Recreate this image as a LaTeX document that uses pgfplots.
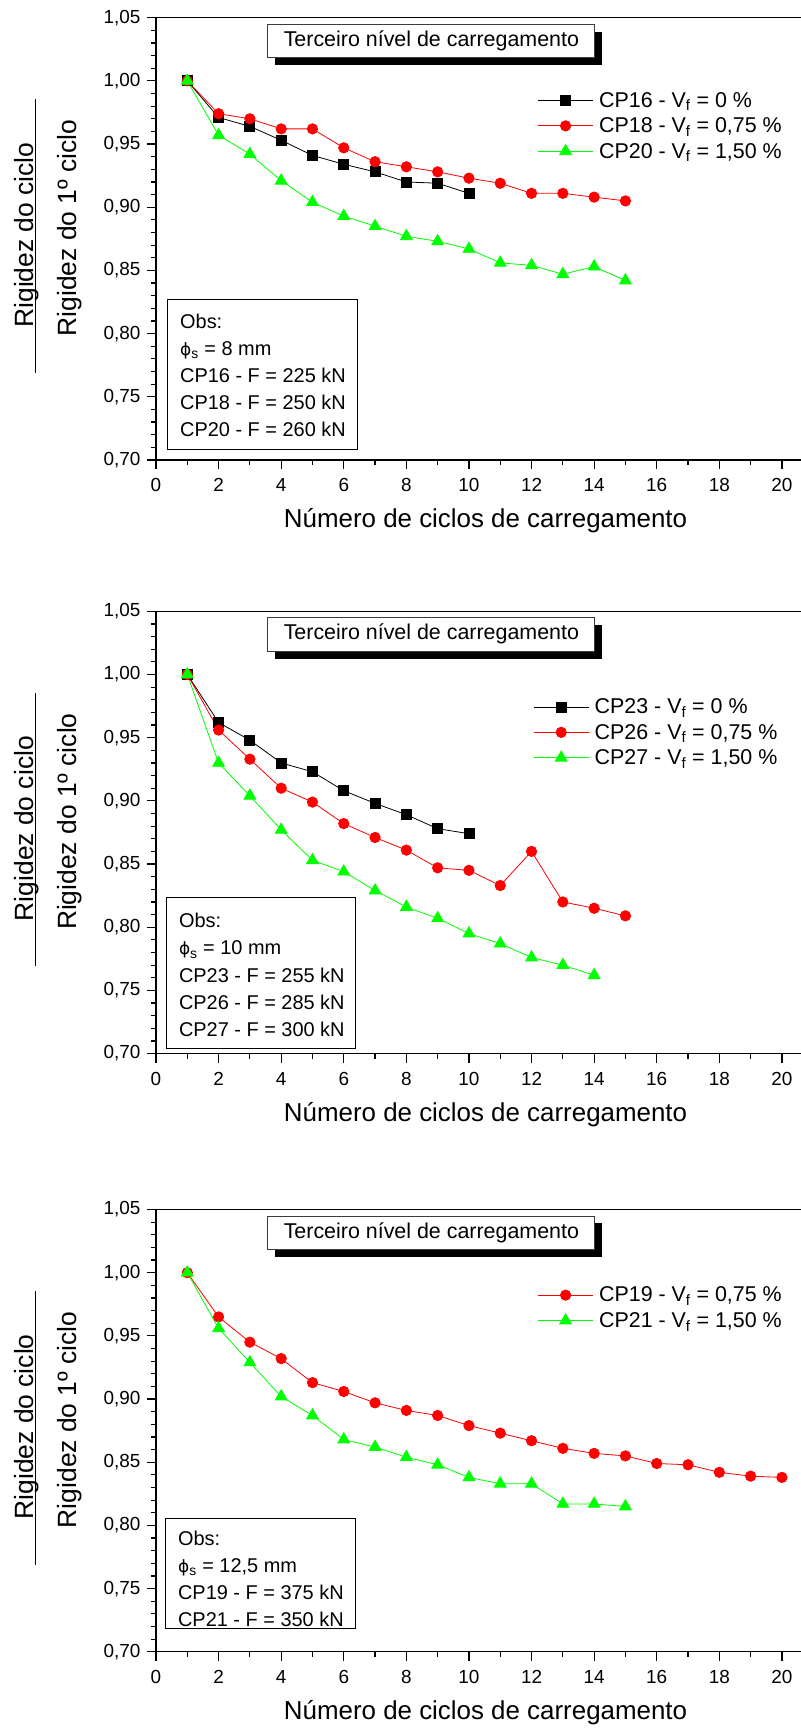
\documentclass[border=0pt]{standalone}
\usepackage{fontspec}
\setmainfont{Liberation Sans}
\newfontfamily\phifont{DejaVu Sans}
\usepackage{pgfplots}
\pgfplotsset{compat=1.18}

\definecolor{cpred}{RGB}{255,0,0}
\definecolor{cpgreen}{RGB}{0,255,0}
\definecolor{boxgray}{RGB}{60,60,60}

\newcommand{\obsfont}{\fontsize{20}{27.2}\selectfont}
\newcommand{\phis}{{\phifont\fontsize{17}{20}\selectfont ϕ}\textsubscript{s}}

\pgfplotsset{
  rig/.style={
    scale only axis, width=650bp, height=442.3bp,
    xmin=0, xmax=20.77, ymin=0.70, ymax=1.05,
    xtick={0,2,4,6,8,10,12,14,16,18,20},
    ytick={0.70,0.75,0.80,0.85,0.90,0.95,1.00,1.05},
    minor x tick num=1, minor y tick num=4,
    tick pos=left, tick align=outside,
    major tick length=9bp, minor tick length=5bp,
    axis line style={line width=1.2bp},
    every tick/.append style={line width=1.2bp, black},
    /pgf/number format/assume math mode=true,
    yticklabel style={/pgf/number format/.cd, fixed, fixed zerofill, precision=2, use comma, /tikz/.cd, xshift=-3bp},
    xticklabel style={yshift=-6bp},
    tick label style={font=\fontsize{19}{22}\selectfont},
    xlabel={Número de ciclos de carregamento},
    xlabel style={font=\fontsize{26}{30}\selectfont, at={(axis description cs:0.507,0)}, anchor=center, yshift=-61bp},
    clip=false,
    legend cell align=left,
    legend style={draw=none, fill=none, inner sep=0pt, row sep=9bp, font=\fontsize{21.5}{25}\selectfont,
      nodes={fill=none, inner xsep=3bp, inner ysep=0bp}},
    legend image code/.code={%
      \draw[#1] (0bp,0bp) -- (55bp,0bp);
      \draw[#1] plot coordinates {(27.5bp,0bp)};
      \path[draw=none, fill=none] (0bp,-5bp) rectangle (58bp,5bp);},
  },
  blk/.style={black, line width=0.8bp, mark=square*, mark size=5bp, mark options={solid}},
  rd/.style={cpred, line width=0.8bp, mark=*, mark size=5.2bp, mark options={solid}},
  gr/.style={cpgreen, line width=0.8bp, mark=triangle*, mark size=6.8bp, mark options={solid}},
}

% y label (fraction) and title box, same on every panel
\newcommand{\decor}{%
  \draw[line width=1.2bp] (rel axis cs:-0.185,0.197) -- (rel axis cs:-0.185,0.816);
  \node[rotate=90, anchor=base, font=\fontsize{26.5}{30}\selectfont] at (rel axis cs:-0.1888,0.5086) {Rigidez do ciclo};
  \node[rotate=90, anchor=base, font=\fontsize{26.5}{30}\selectfont] at (rel axis cs:-0.122,0.5244) {Rigidez do 1º ciclo};
  \fill[black] (axis cs:3.8,1.0124) rectangle (axis cs:14.24,1.039);
  \draw[boxgray, fill=white, line width=0.8bp] (axis cs:3.57,1.0182) rectangle (axis cs:14.0,1.0449);
  \node[font=\fontsize{21.5}{25}\selectfont] at (axis cs:8.8,1.0318) {Terceiro nível de carregamento};
}
% #1 lower-left, #2 upper-right, #3 text top-left, #4 text
\newcommand{\obs}[4]{%
  \draw[line width=0.9bp] (axis cs:#1) rectangle (axis cs:#2);
  \node[anchor=north west, align=left, inner sep=0pt, font=\obsfont] at (axis cs:#3) {#4};
}

\begin{document}
\begin{tikzpicture}
\path[use as bounding box] (0,0) rectangle (801bp,1728bp);

% ---------- panel 1 ----------
\begin{axis}[rig, at={(156bp,1268bp)}, anchor=south west,
  legend style={at={(axis cs:12.19,0.9912)}, anchor=north west}]
\addplot[blk] coordinates {(1,1.000) (2,0.971) (3,0.964) (4,0.953) (5,0.941) (6,0.934) (7,0.928) (8,0.920) (9,0.919) (10,0.911)};
\addlegendentry{CP16 - V\textsubscript{f} = 0 \%}
\addplot[rd] coordinates {(1,1.000) (2,0.974) (3,0.970) (4,0.962) (5,0.962) (6,0.947) (7,0.936) (8,0.932) (9,0.928) (10,0.923) (11,0.919) (12,0.911) (13,0.911) (14,0.908) (15,0.905)};
\addlegendentry{CP18 - V\textsubscript{f} = 0,75 \%}
\addplot[gr] coordinates {(1,1.000) (2,0.957) (3,0.942) (4,0.921) (5,0.904) (6,0.893) (7,0.885) (8,0.877) (9,0.873) (10,0.867) (11,0.856) (12,0.854) (13,0.847) (14,0.853) (15,0.842)};
\addlegendentry{CP20 - V\textsubscript{f} = 1,50 \%}
\decor
\obs{0.365,0.7087}{6.45,0.8273}{0.767,0.8159}{Obs:\\ \phis{} = 8 mm\\ CP16 - F = 225 kN\\ CP18 - F = 250 kN\\ CP20 - F = 260 kN}
\end{axis}

% ---------- panel 2 ----------
\begin{axis}[rig, at={(156bp,674.4bp)}, anchor=south west,
  legend style={at={(axis cs:12.05,0.981)}, anchor=north west}]
\addplot[blk] coordinates {(1,1.000) (2,0.962) (3,0.948) (4,0.930) (5,0.923) (6,0.908) (7,0.898) (8,0.889) (9,0.878) (10,0.874)};
\addlegendentry{CP23 - V\textsubscript{f} = 0 \%}
\addplot[rd] coordinates {(1,1.000) (2,0.956) (3,0.933) (4,0.910) (5,0.899) (6,0.882) (7,0.871) (8,0.861) (9,0.847) (10,0.845) (11,0.833) (12,0.860) (13,0.820) (14,0.815) (15,0.809)};
\addlegendentry{CP26 - V\textsubscript{f} = 0,75 \%}
\addplot[gr] coordinates {(1,1.000) (2,0.930) (3,0.904) (4,0.877) (5,0.853) (6,0.844) (7,0.829) (8,0.816) (9,0.807) (10,0.795) (11,0.787) (12,0.776) (13,0.770) (14,0.762)};
\addlegendentry{CP27 - V\textsubscript{f} = 1,50 \%}
\decor
\obs{0.323,0.704}{6.38,0.8234}{0.73,0.8111}{Obs:\\ \phis{} = 10 mm\\ CP23 - F = 255 kN\\ CP26 - F = 285 kN\\ CP27 - F = 300 kN}
\end{axis}

% ---------- panel 3 ----------
\begin{axis}[rig, at={(156bp,76.2bp)}, anchor=south west,
  legend style={at={(axis cs:12.19,0.9889)}, anchor=north west}]
\addplot[rd] coordinates {(1,1.000) (2,0.965) (3,0.945) (4,0.932) (5,0.913) (6,0.906) (7,0.897) (8,0.891) (9,0.887) (10,0.879) (11,0.873) (12,0.867) (13,0.861) (14,0.857) (15,0.855) (16,0.849) (17,0.848) (18,0.842) (19,0.839) (20,0.838)};
\addlegendentry{CP19 - V\textsubscript{f} = 0,75 \%}
\addplot[gr] coordinates {(1,1.000) (2,0.956) (3,0.929) (4,0.902) (5,0.887) (6,0.868) (7,0.862) (8,0.854) (9,0.848) (10,0.838) (11,0.833) (12,0.833) (13,0.817) (14,0.817) (15,0.815)};
\addlegendentry{CP21 - V\textsubscript{f} = 1,50 \%}
\decor
\obs{0.30,0.7181}{6.37,0.8052}{0.70,0.7956}{Obs:\\ \phis{} = 12,5 mm\\ CP19 - F = 375 kN\\ CP21 - F = 350 kN}
\end{axis}
\end{tikzpicture}
\end{document}
